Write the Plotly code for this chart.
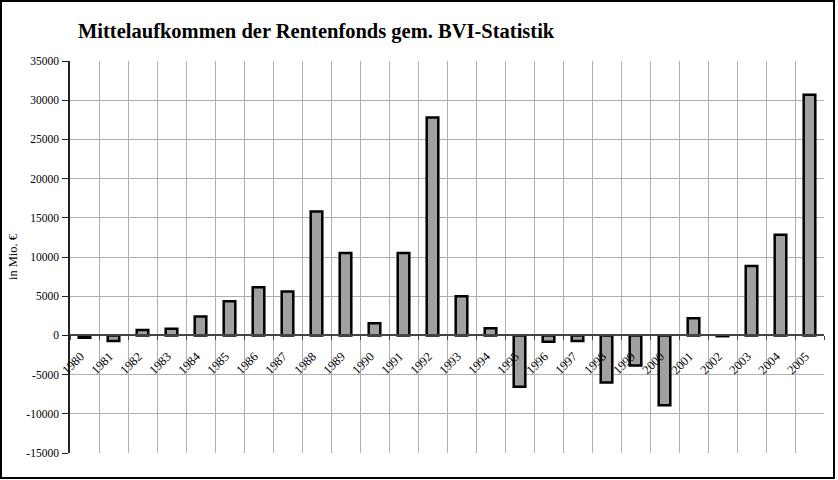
import plotly.graph_objects as go

years = [str(y) for y in range(1980, 2006)]
values = [-300, -700, 700, 850, 2400, 4350, 6150, 5600, 15800, 10500,
          1550, 10500, 27800, 5000, 900, -6550, -800, -700, -6000, -3850,
          -8900, 2200, -100, 8850, 12850, 30700]
y_ticks = [-15000, -10000, -5000, 0, 5000, 10000, 15000, 20000, 25000, 30000, 35000]

W, H = 838, 480
L, R, T, B = 70, 14, 61, 27
pw, ph = W - L - R, H - T - B

fig = go.Figure()
fig.add_trace(go.Bar(
    x=years, y=values, width=0.4,
    marker=dict(color="#a0a0a0", line=dict(color="#000000", width=2.5)),
))

serif = "Liberation Serif, Times New Roman, serif"
fig.update_layout(
    width=W, height=H,
    margin=dict(l=L, r=R, t=T, b=B),
    paper_bgcolor="white", plot_bgcolor="white",
    showlegend=False,
    bargap=0.6,
    font=dict(family=serif, size=11, color="black"),
    title=dict(text="<b>Mittelaufkommen der Rentenfonds gem. BVI-Statistik</b>",
               font=dict(family=serif, size=20.5, color="black"),
               xref="container", x=78 / W, xanchor="left",
               yref="container", y=1 - 31 / H, yanchor="middle"),
    xaxis=dict(
        type="category", anchor="free", position=15000 / 50000,
        tickson="boundaries", ticks="outside", ticklen=4, tickcolor="#444",
        showline=True, linecolor="#444", linewidth=1.5,
        showgrid=True, gridcolor="#b0b0b0", gridwidth=1,
        tickangle=-45, tickfont=dict(family=serif, size=12.5),
        ticklabelstandoff=8, ticklabelshift=-4,
        range=[-0.5, len(years) - 0.5],
    ),
    yaxis=dict(
        range=[-15000, 35000], tickvals=y_ticks, ticktext=[str(v) for v in y_ticks],
        ticks="outside", ticklen=6, tickcolor="#222",
        showline=True, linecolor="#222", linewidth=1.5,
        showgrid=True, gridcolor="#b0b0b0", gridwidth=1,
        zeroline=False, ticklabelstandoff=1,
        tickfont=dict(family=serif, size=11.5),
        title=dict(text="in Mio. €", standoff=6, font=dict(family=serif, size=12.5)),
    ),
    shapes=[dict(
        type="rect", xref="paper", yref="paper",
        x0=(1 - L) / pw, x1=(W - 4 - L) / pw,
        y0=-(H - 2 - (T + ph)) / ph, y1=1 + (T - 1) / ph,
        line=dict(color="black", width=2), fillcolor="rgba(0,0,0,0)", layer="above",
    )],
)

fig.write_html("out.html")
